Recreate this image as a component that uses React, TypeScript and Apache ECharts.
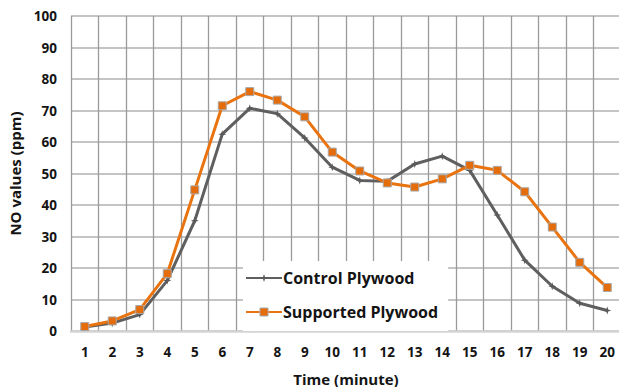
import React, { useEffect, useRef } from "react";
import * as echarts from "echarts";

const minutes = ["1","2","3","4","5","6","7","8","9","10","11","12","13","14","15","16","17","18","19","20"];
const controlPlywood = [1.3, 2.5, 5.2, 16, 35, 62.5, 70.7, 69, 61.3, 52, 47.8, 47.5, 53, 55.5, 51, 36.8, 22.5, 14.2, 8.8, 6.5];
const supportedPlywood = [1.4, 3.2, 6.8, 18.2, 44.8, 71.5, 76, 73.3, 68, 56.8, 50.8, 47, 45.7, 48.3, 52.6, 51, 44.2, 33, 21.8, 13.8];
const seriesNames = ["Control Plywood", "Supported Plywood"];

const FONT = "'Open Sans', sans-serif";
const TXT = "#141414";

export default function App() {
  const ref = useRef<HTMLDivElement>(null);
  useEffect(() => {
    if (!ref.current) return;
    const chart = echarts.init(ref.current, null, { renderer: "svg" });
    chart.setOption({
      animation: false,
      backgroundColor: "#ffffff",
      textStyle: { fontFamily: FONT },
      grid: { left: 71, right: -2, top: 16, bottom: 56, containLabel: false, outerBoundsMode: "none" },
      legend: {
        orient: "vertical",
        left: 243,
        top: 261,
        data: seriesNames,
        backgroundColor: "#ffffff",
        padding: [9, 10, 11, 2],
        itemWidth: 36,
        itemHeight: 10,
        itemGap: 18,
        itemStyle: { borderWidth: 1 },
        textStyle: { fontSize: 16, fontWeight: "bold", color: TXT, fontFamily: FONT, lineHeight: 16, padding: [0, 0, 0, -4] },
        z: 10,
      },
      xAxis: {
        type: "category",
        data: minutes,
        boundaryGap: true,
        name: "Time (minute)",
        nameLocation: "middle",
        nameGap: 40,
        nameTextStyle: { fontSize: 15, fontWeight: "bold", color: TXT, fontFamily: FONT },
        axisLine: { show: true, lineStyle: { color: "#d4d4d4", width: 2.5 } },
        axisTick: { show: false },
        axisLabel: { fontSize: 13.5, fontWeight: "bold", color: TXT, margin: 14, interval: 0, fontFamily: FONT },
        splitLine: { show: true, interval: 0, lineStyle: { color: "#9a9a9a", width: 1.3 } },
      },
      yAxis: {
        type: "value",
        min: 0,
        max: 100,
        interval: 10,
        name: "NO values (ppm)",
        nameLocation: "middle",
        nameGap: 48,
        nameTextStyle: { fontSize: 15, fontWeight: "bold", color: TXT, fontFamily: FONT },
        axisLine: { show: false },
        axisTick: { show: false },
        axisLabel: { fontSize: 13.5, fontWeight: "bold", color: TXT, margin: 14, fontFamily: FONT },
        splitLine: { show: true, lineStyle: { color: "#c4c4c4", width: 2 } },
      },
      series: [
        {
          name: seriesNames[0],
          type: "line",
          data: controlPlywood,
          symbol: "path://M0,-10 L2.5,-2.5 L10,0 L2.5,2.5 L0,10 L-2.5,2.5 L-10,0 L-2.5,-2.5 Z",
          symbolSize: 8,
          showSymbol: true,
          itemStyle: { color: "#5a5a5a" },
          lineStyle: { color: "#5f5f5f", width: 3 },
          z: 3,
        },
        {
          name: seriesNames[1],
          type: "line",
          data: supportedPlywood,
          symbol: "rect",
          symbolSize: 8,
          showSymbol: true,
          itemStyle: { color: "#e46c0a", borderColor: "#a8a8a8", borderWidth: 1 },
          lineStyle: { color: "#e8730f", width: 3 },
          z: 4,
        },
      ],
    });
    return () => chart.dispose();
  }, []);
  return (
    <div
      ref={ref}
      style={{ position: "fixed", left: 0, top: 0, width: 619, height: 387 }}
    />
  );
}
